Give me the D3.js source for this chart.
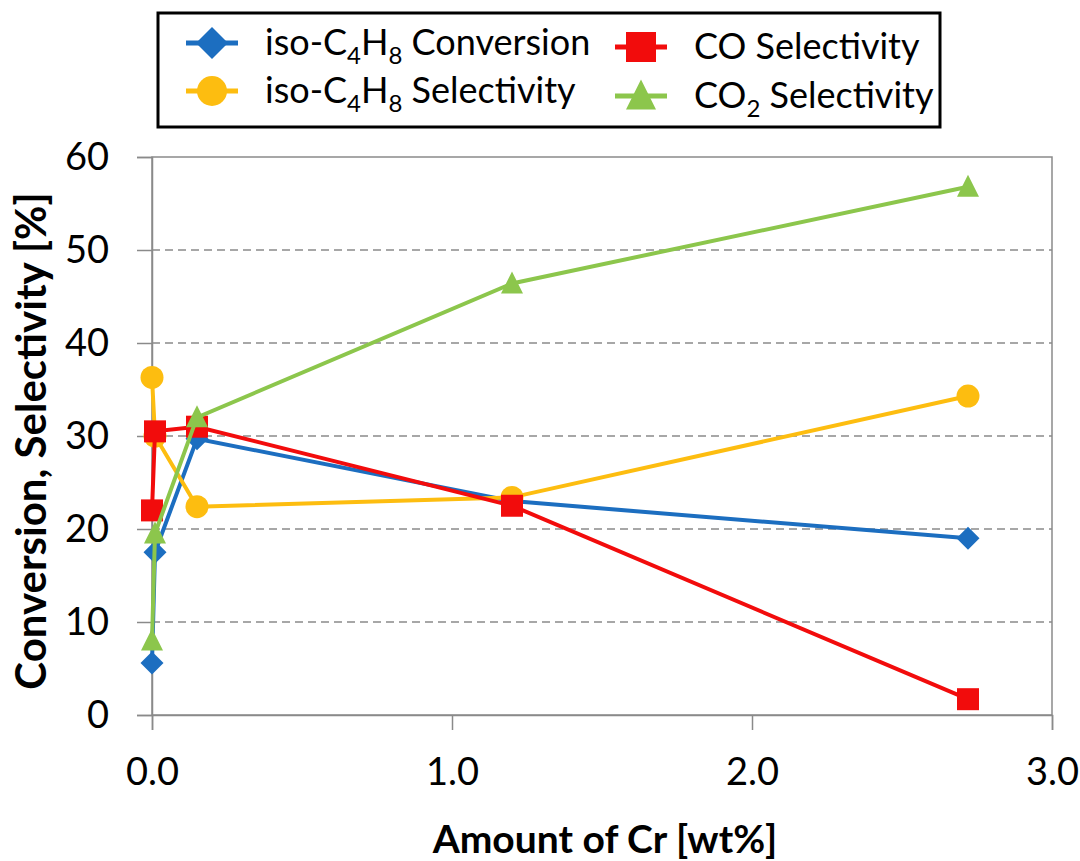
<!DOCTYPE html>
<html>
<head>
<meta charset="utf-8">
<script src="https://cdn.jsdelivr.net/npm/d3@7"></script>
<style>
  body { margin: 0; background: #fff; }
  text { font-family: Lato, "Open Sans", sans-serif; }
</style>
</head>
<body>
<div id="chart"></div>
<script>

// amount of Cr [wt%]
var crAmount = [0, 0.01, 0.15, 1.2, 2.72];

var isoConversion  = [5.6, 17.5, 29.7, 23.0, 19.0];
var isoSelectivity = [36.3, 30.0, 22.4, 23.4, 34.3];
var coSelectivity  = [22.0, 30.5, 31.0, 22.5, 1.7];
var co2Selectivity = [8.0, 19.5, 32.0, 46.4, 56.8];

var xTicks = [0, 1, 2, 3];
var yTicks = [0, 10, 20, 30, 40, 50, 60];

var series = [
  {name: "iso-C|4|H|8| Conversion", values: isoConversion, color: "#1c6ec0", shape: "diamond"},
  {name: "iso-C|4|H|8| Selectivity", values: isoSelectivity, color: "#fdbd10", shape: "circle"},
  {name: "CO Selectivity", values: coSelectivity, color: "#f20c0c", shape: "square"},
  {name: "CO|2| Selectivity", values: co2Selectivity, color: "#8cc64c", shape: "triangle"}
];

var margin = {top: 157, right: 28, bottom: 146, left: 152}
  , width = 1080 - margin.left - margin.right
  , height = 861 - margin.top - margin.bottom;

var xScale = d3.scaleLinear()
    .domain([0, 3])
    .range([0, width]);

var yScale = d3.scaleLinear()
    .domain([0, 60])
    .range([height, 0]);

var svg = d3.select("#chart").append("svg")
    .attr("width", 1080)
    .attr("height", 861);

var g = svg.append("g")
    .attr("transform", "translate(" + margin.left + "," + margin.top + ")");

// dashed grid
g.selectAll(".grid")
    .data(yTicks.filter(function(d) { return d > 0 && d < 60; }))
    .enter().append("line")
    .attr("x1", 0)
    .attr("x2", width)
    .attr("y1", function(d) { return yScale(d); })
    .attr("y2", function(d) { return yScale(d); })
    .attr("stroke", "#8a8a8a")
    .attr("stroke-width", 1.3)
    .attr("stroke-dasharray", "8,5");

// plot frame
g.append("rect")
    .attr("width", width)
    .attr("height", height)
    .attr("fill", "none")
    .attr("stroke", "#8a8a8a")
    .attr("stroke-width", 1.5);

var xAxis = g.append("g")
    .attr("transform", "translate(0," + height + ")")
    .call(d3.axisBottom(xScale).tickValues(xTicks).tickSize(15).tickPadding(28)
      .tickFormat(d3.format(".1f")));

var yAxis = g.append("g")
    .call(d3.axisLeft(yScale).tickValues(yTicks).tickSize(15).tickPadding(28));

[xAxis, yAxis].forEach(function(a) {
  a.select(".domain").attr("stroke", "#8a8a8a").attr("stroke-width", 1.5);
  a.selectAll(".tick line").attr("stroke", "#8a8a8a").attr("stroke-width", 1.5);
  a.selectAll(".tick text")
    .attr("fill", "#000")
    .style("font-family", "Lato, sans-serif")
    .style("font-size", "38px");
});

// axis titles
svg.append("text")
    .attr("x", 605)
    .attr("y", 853)
    .attr("text-anchor", "middle")
    .style("font-size", "39px")
    .style("font-weight", "bold")
    .text("Amount of Cr [wt%]");

svg.append("text")
    .attr("transform", "translate(46,441) rotate(-90)")
    .attr("text-anchor", "middle")
    .style("font-size", "42px")
    .style("font-weight", "bold")
    .text("Conversion, Selectivity [%]");

// marker outlines, r = half width
function markerPath(shape, r) {
  if (shape === "circle") {
    return d3.symbol().type(d3.symbolCircle).size(Math.PI * r * r)();
  }
  if (shape === "square") {
    return "M" + (-r) + "," + (-r) + "H" + r + "V" + r + "H" + (-r) + "Z";
  }
  if (shape === "diamond") {
    return "M0," + (-r) + "L" + r + ",0L0," + r + "L" + (-r) + ",0Z";
  }
  // triangle
  return "M0," + (-r * 1.1) + "L" + r + "," + (r * 0.9) + "L" + (-r) + "," + (r * 0.9) + "Z";
}

var plotR = {diamond: 11.5, circle: 11.5, square: 11, triangle: 11};

var line = d3.line()
    .x(function(d, i) { return xScale(crAmount[i]); })
    .y(function(d) { return yScale(d); });

series.forEach(function(s) {
  var sg = g.append("g");
  sg.append("path")
      .attr("d", line(s.values))
      .attr("fill", "none")
      .attr("stroke", s.color)
      .attr("stroke-width", 4);
  sg.selectAll("path.mk")
      .data(s.values)
      .enter().append("path")
      .attr("class", "mk")
      .attr("d", markerPath(s.shape, plotR[s.shape]))
      .attr("transform", function(d, i) {
        return "translate(" + xScale(crAmount[i]) + "," + yScale(d) + ")";
      })
      .attr("fill", s.color);
});

// legend
var legend = svg.append("g");
legend.append("rect")
    .attr("x", 158)
    .attr("y", 13)
    .attr("width", 782)
    .attr("height", 114)
    .attr("fill", "#fff")
    .attr("stroke", "#000")
    .attr("stroke-width", 3);

var legendPos = [[212, 43], [212, 91], [641, 47], [641, 96]];
var legendR = {diamond: 16, circle: 15, square: 15, triangle: 15};

function writeLabel(textEl, label) {
  // parts between | are subscripts
  label.split("|").forEach(function(part, i) {
    if (!part) return;
    var t = textEl.append("tspan").text(part);
    if (i % 2 === 1) {
      t.style("font-size", "24px").attr("dy", 9);
    } else if (i > 0) {
      t.attr("dy", -9);
    }
  });
}

series.forEach(function(s, i) {
  var p = legendPos[i];
  legend.append("line")
      .attr("x1", p[0] - 26).attr("x2", p[0] + 26)
      .attr("y1", p[1]).attr("y2", p[1])
      .attr("stroke", s.color)
      .attr("stroke-width", 5);
  legend.append("path")
      .attr("d", markerPath(s.shape, legendR[s.shape]))
      .attr("transform", "translate(" + p[0] + "," + p[1] + ")")
      .attr("fill", s.color);
  var t = legend.append("text")
      .attr("x", p[0] + 53)
      .attr("y", p[1] + 12)
      .style("font-size", "36px");
  writeLabel(t, s.name);
});

</script>
</body>
</html>
